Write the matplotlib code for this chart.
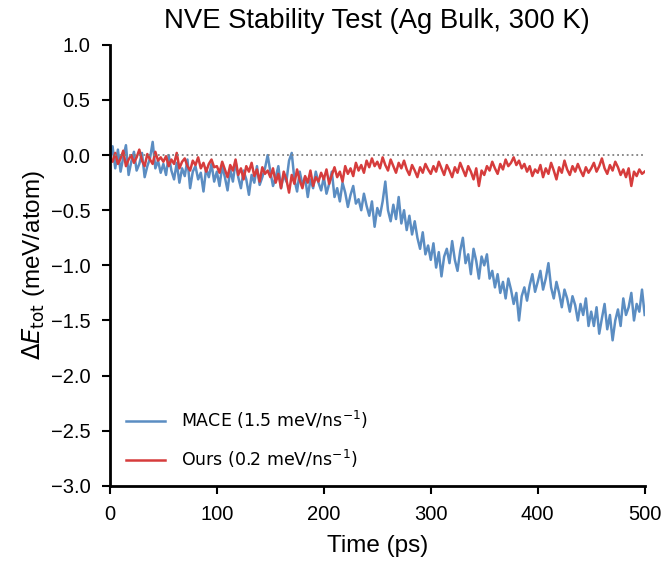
import numpy as np
import matplotlib
matplotlib.use("Agg")
import matplotlib.pyplot as plt

# time axis (ps), sampled every 2.5 ps
time_ps = np.arange(0, 500.1, 2.5)

# energy drift (meV/atom)
mace = [
    -0.05, 0.08, -0.12, 0.05, -0.15, -0.02, 0.09, -0.18, -0.06, 0.03, -0.14, -0.08, 0.02, -0.2, -0.1, -0.03, 0.12, -0.12, -0.05, -0.16,
    -0.08, -0.18, 0.0, -0.14, -0.22, -0.07, -0.25, -0.12, -0.19, -0.04, -0.3, -0.15, -0.1, -0.22, -0.16, -0.33, -0.12, -0.2, -0.08, -0.24,
    -0.15, -0.28, -0.1, -0.2, -0.32, -0.13, -0.24, -0.06, -0.2, -0.3, -0.14, -0.22, -0.36, -0.18, -0.25, -0.1, -0.27, -0.2, -0.12, 0.0,
    -0.15, -0.28, -0.2, -0.1, -0.3, -0.18, -0.24, -0.05, 0.02, -0.22, -0.33, -0.15, -0.27, -0.2, -0.38, -0.22, -0.3, -0.15, -0.25, -0.32,
    -0.2, -0.35, -0.26, -0.15, -0.38, -0.3, -0.42, -0.25, -0.34, -0.47, -0.36, -0.28, -0.44, -0.4, -0.5, -0.35, -0.46, -0.55, -0.42, -0.65,
    -0.48, -0.55, -0.42, -0.24, -0.5, -0.6, -0.45, -0.58, -0.38, -0.62, -0.5, -0.68, -0.55, -0.72, -0.6, -0.75, -0.85, -0.7, -0.9, -0.82,
    -0.95, -0.8, -1.02, -0.88, -1.1, -0.92, -0.85, -0.98, -0.78, -0.95, -1.05, -0.87, -0.75, -0.98, -0.9, -1.08, -0.85, -0.96, -1.12, -0.92,
    -1.0, -0.9, -1.12, -1.05, -1.2, -1.08, -1.25, -1.15, -1.3, -1.12, -1.22, -1.35, -1.25, -1.5, -1.28, -1.2, -1.32, -1.18, -1.08, -1.24,
    -1.15, -1.05, -1.22, -1.12, -0.98, -1.2, -1.3, -1.15, -1.25, -1.38, -1.22, -1.3, -1.42, -1.28, -1.36, -1.5, -1.35, -1.45, -1.3, -1.55,
    -1.42, -1.55, -1.38, -1.62, -1.48, -1.35, -1.58, -1.45, -1.68, -1.5, -1.4, -1.55, -1.3, -1.45, -1.38, -1.25, -1.5, -1.35, -1.42, -1.22, -1.45,
]
ours = [
    -0.02, -0.06, 0.02, -0.08, -0.03, 0.04, -0.1, -0.04, 0.0, -0.07, -0.02, 0.05, -0.05, -0.1, 0.01, -0.04, -0.08, 0.03, -0.05, -0.02,
    -0.06, -0.01, -0.1, -0.04, -0.08, 0.02, -0.12, -0.06, -0.03, -0.1, -0.14, -0.05, -0.09, -0.02, -0.12, -0.07, -0.15, -0.08, -0.04, -0.11,
    -0.1, -0.16, -0.06, -0.13, -0.2, -0.09, -0.14, -0.04, -0.18, -0.12, -0.22, -0.1, -0.15, -0.07, -0.19, -0.13, -0.24, -0.11, -0.17, -0.14,
    -0.2, -0.12, -0.25, -0.17, -0.3, -0.15, -0.22, -0.34, -0.18, -0.26, -0.13, -0.23, -0.3, -0.19, -0.25, -0.14, -0.28, -0.2, -0.24, -0.16,
    -0.22, -0.13, -0.26, -0.18, -0.11, -0.2, -0.15, -0.24, -0.1, -0.17, -0.12, -0.19, -0.07, -0.14, -0.09, -0.16, -0.05, -0.11, -0.03, -0.1,
    -0.06, -0.12, -0.02, -0.09, -0.14, -0.04, -0.1, -0.16, -0.07, -0.12, -0.05, -0.13, -0.18, -0.09, -0.14, -0.2, -0.11, -0.16, -0.08, -0.13,
    -0.17, -0.1, -0.15, -0.06, -0.12, -0.18, -0.09, -0.14, -0.2, -0.11, -0.16, -0.07, -0.13, -0.19, -0.1, -0.15, -0.22, -0.12, -0.28, -0.14,
    -0.18, -0.1, -0.14, -0.06, -0.12, -0.17, -0.08, -0.13, -0.04, -0.1, -0.07, -0.02, -0.09, -0.05, -0.12, -0.08, -0.15, -0.1, -0.19, -0.13,
    -0.16, -0.09, -0.2, -0.12, -0.17, -0.07, -0.14, -0.22, -0.11, -0.16, -0.05, -0.13, -0.18, -0.1, -0.15, -0.08, -0.14, -0.19, -0.11, -0.16,
    -0.12, -0.07, -0.15, -0.1, -0.03, -0.12, -0.17, -0.09, -0.14, -0.06, -0.11, -0.18, -0.13, -0.2, -0.12, -0.28, -0.15, -0.19, -0.13, -0.17, -0.15,
]
labels = ["MACE (1.5 meV/ns$^{-1}$)", "Ours (0.2 meV/ns$^{-1}$)"]

plt.rcParams["font.family"] = ["Liberation Sans", "DejaVu Sans"]

fig = plt.figure(figsize=(6.66, 5.61), dpi=100)
ax = fig.add_axes([0.165, 0.134, 0.803, 0.786])

ax.plot(time_ps, mace, color="#5b8dc2", lw=1.8, label=labels[0])
ax.plot(time_ps, ours, color="#d63c3c", lw=1.8, label=labels[1])
ax.axhline(0, color="gray", ls=":", lw=1.3)

ax.set_xlim(0, 500)
ax.set_ylim(-3.0, 1.0)
ax.set_xticks([0, 100, 200, 300, 400, 500])
ax.set_yticks(np.arange(-3.0, 1.01, 0.5))
ax.yaxis.set_major_formatter(matplotlib.ticker.FuncFormatter(lambda v, p: f"{v:.1f}".replace("-", "\u2212")))

ax.set_title("NVE Stability Test (Ag Bulk, 300 K)", fontsize=19.8, pad=12)
ax.set_xlabel("Time (ps)", fontsize=17.5, labelpad=8)
ax.set_ylabel(r"$\Delta E_{\rm tot}$ (meV/atom)", fontsize=17.5, labelpad=3)
ax.tick_params(labelsize=14.5, width=1.5, length=6, pad=8)

for s in ["top", "right"]:
    ax.spines[s].set_visible(False)
for s in ["left", "bottom"]:
    ax.spines[s].set_linewidth(2)

ax.legend(loc="lower left", bbox_to_anchor=(0.0, 0.0), frameon=False,
          prop={"family": "DejaVu Sans", "size": 12.5},
          labelspacing=1.0, handlelength=2.3, handletextpad=0.9)

fig.savefig("out.png", dpi=100)
